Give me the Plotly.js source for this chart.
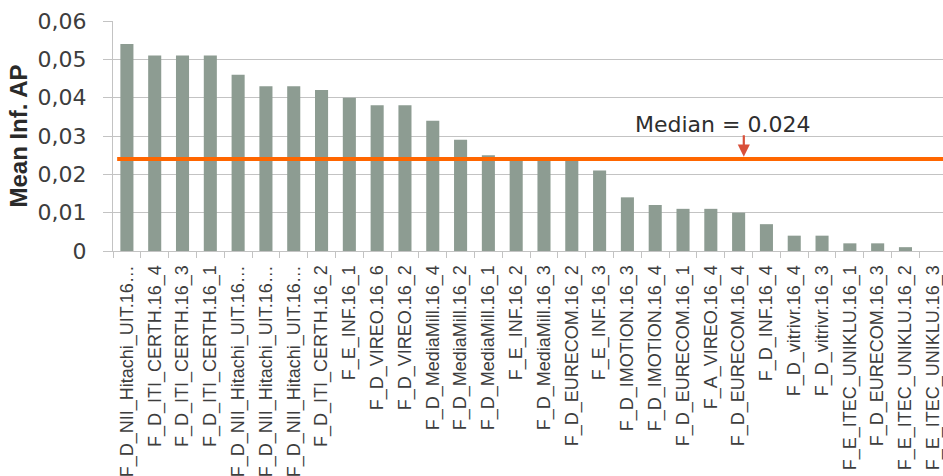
<!DOCTYPE html>
<html>
<head>
<meta charset="utf-8">
<script src="https://cdn.plot.ly/plotly-3.0.1.min.js"></script>
<style>
  html, body { margin: 0; padding: 0; background: #ffffff; overflow: hidden; }
  #chart { width: 943px; height: 476px; }
</style>
</head>
<body>
<div id="chart"></div>
<script>
const categories = [
  "F_D_NII_Hitachi_UIT.16…", "F_D_ITI_CERTH.16_4", "F_D_ITI_CERTH.16_3", "F_D_ITI_CERTH.16_1",
  "F_D_NII_Hitachi_UIT.16…", "F_D_NII_Hitachi_UIT.16…", "F_D_NII_Hitachi_UIT.16…", "F_D_ITI_CERTH.16_2",
  "F_E_INF.16_1", "F_D_VIREO.16_6", "F_D_VIREO.16_2", "F_D_MediaMill.16_4",
  "F_D_MediaMill.16_2", "F_D_MediaMill.16_1", "F_E_INF.16_2", "F_D_MediaMill.16_3",
  "F_D_EURECOM.16_2", "F_E_INF.16_3", "F_D_IMOTION.16_3", "F_D_IMOTION.16_4",
  "F_D_EURECOM.16_1", "F_A_VIREO.16_4", "F_D_EURECOM.16_4", "F_D_INF.16_4",
  "F_D_vitrivr.16_4", "F_D_vitrivr.16_3", "F_E_ITEC_UNIKLU.16_1", "F_D_EURECOM.16_3",
  "F_E_ITEC_UNIKLU.16_2", "F_E_ITEC_UNIKLU.16_3"
];
const meanInfAP = [
  0.054, 0.051, 0.051, 0.051,
  0.046, 0.043, 0.043, 0.042,
  0.040, 0.038, 0.038, 0.034,
  0.029, 0.025, 0.024, 0.024,
  0.024, 0.021, 0.014, 0.012,
  0.011, 0.011, 0.010, 0.007,
  0.004, 0.004, 0.002, 0.002,
  0.001, 0.000
];
const median = 0.024;
const medianLabel = "Median = 0.024";
const yTickVals = [0, 0.01, 0.02, 0.03, 0.04, 0.05, 0.06];
const yTickText = ["0", "0,01", "0,02", "0,03", "0,04", "0,05", "0,06"];
const yTitle = "Mean Inf. AP";

const positions = categories.map((c, i) => i);

const trace = {
  type: "bar",
  x: positions,
  y: meanInfAP,
  width: 0.47,
  marker: { color: "#8d9c92" },
  hoverinfo: "skip"
};

const gridCol = "#c3c3c3";
const textCol = "#3d3d3d";

const layout = {
  width: 943,
  height: 476,
  margin: { l: 113, r: 0, t: 21, b: 225, pad: 0 },
  paper_bgcolor: "#ffffff",
  plot_bgcolor: "#ffffff",
  showlegend: false,
  bargap: 0.53,
  xaxis: {
    type: "linear",
    range: [-0.5, 29.35],
    tickmode: "array",
    tickvals: positions,
    ticktext: categories,
    tickangle: -90,
    ticks: "",
    ticklabelstandoff: 6,
    ticklabeloverflow: "allow",
    tickfont: { family: "Liberation Sans, Arial, sans-serif", size: 18, color: textCol },
    showgrid: false,
    zeroline: false,
    showline: true,
    linecolor: gridCol,
    linewidth: 1,
    minor: {
      tick0: 0.5,
      dtick: 1,
      ticks: "outside",
      ticklen: 6,
      tickcolor: gridCol,
      tickwidth: 1,
      showgrid: false
    },
    fixedrange: true
  },
  yaxis: {
    range: [0, 0.06],
    tickmode: "array",
    tickvals: yTickVals,
    ticktext: yTickText,
    ticks: "outside",
    ticklen: 9,
    tickcolor: gridCol,
    tickwidth: 1,
    ticklabelstandoff: 12,
    tickfont: { family: "DejaVu Sans, sans-serif", size: 22, color: textCol },
    showgrid: true,
    gridcolor: gridCol,
    gridwidth: 1,
    zeroline: false,
    showline: true,
    linecolor: gridCol,
    linewidth: 1,
    title: {
      text: "<b>" + yTitle + "</b>",
      font: { family: "Liberation Sans, Arial, sans-serif", size: 24, color: "#2a2a2a" },
      standoff: 3
    },
    fixedrange: true
  },
  shapes: [
    {
      type: "line",
      xref: "paper", yref: "y",
      x0: 0.005, x1: 1,
      y0: median, y1: median,
      line: { color: "#ff6600", width: 4 }
    }
  ],
  annotations: [
    {
      xref: "paper", yref: "y",
      x: 0.734, y: 0.0331,
      text: medianLabel,
      showarrow: false,
      font: { family: "DejaVu Sans, sans-serif", size: 22, color: "#2e2e2e" },
      xanchor: "center", yanchor: "middle"
    },
    {
      xref: "paper", yref: "y",
      x: 0.760, y: 0.0246,
      text: "",
      showarrow: true,
      arrowhead: 2,
      arrowsize: 1.1,
      arrowwidth: 2.2,
      arrowcolor: "#d9503a",
      ax: 0, ay: -23
    }
  ]
};

Plotly.newPlot("chart", [trace], layout, { displayModeBar: false, staticPlot: true });
</script>
</body>
</html>
